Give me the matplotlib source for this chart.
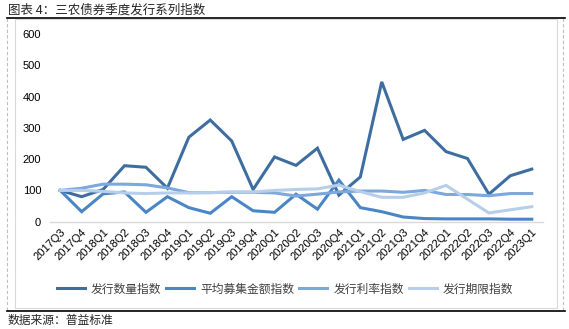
import numpy as np
import matplotlib.pyplot as plt
from matplotlib.lines import Line2D
from matplotlib.patches import Rectangle

plt.rcParams['font.family'] = ['Noto Sans CJK SC', 'DejaVu Sans']

# 季度
quarters = ['2017Q3', '2017Q4',
            '2018Q1', '2018Q2', '2018Q3', '2018Q4',
            '2019Q1', '2019Q2', '2019Q3', '2019Q4',
            '2020Q1', '2020Q2', '2020Q3', '2020Q4',
            '2021Q1', '2021Q2', '2021Q3', '2021Q4',
            '2022Q1', '2022Q2', '2022Q3', '2022Q4',
            '2023Q1']

# 各指数 (2017Q3 = 100)
issue_count = [100, 80, 103, 179, 174, 107, 270, 325, 258, 103, 207, 180,
               235, 85, 143, 447, 263, 292, 224, 202, 88, 147, 168]
avg_amount = [100, 32, 89, 95, 30, 80, 45, 27, 80, 35, 30, 88,
              40, 133, 45, 32, 15, 10, 9, 9, 9, 8, 8]
issue_rate = [100, 107, 120, 120, 118, 108, 93, 93, 94, 94, 92, 82,
              88, 95, 98, 98, 94, 100, 87, 87, 83, 90, 90]
issue_term = [100, 100, 97, 92, 90, 92, 92, 93, 95, 95, 100, 103,
              105, 117, 96, 78, 78, 92, 116, 72, 28, 38, 48]

names = ['发行数量指数', '平均募集金额指数', '发行利率指数', '发行期限指数']
colors = ['#3E6E9F', '#4A86C6', '#7DA8DB', '#B7CEEA']

fig = plt.figure(figsize=(5.69, 3.29), dpi=100)
W, H = 569.0, 329.0

# 外框
for x in (7, 563):
    fig.add_artist(Line2D([x / W, x / W], [1 - 18 / H, 1 - 311 / H], color='#BFBFBF',
                          lw=0.8, ls=(0, (3, 2))))
fig.add_artist(Rectangle((15 / W, 1 - 308 / H), (557 - 15) / W, (308 - 19) / H,
                         fill=False, edgecolor='#D9D9D9', lw=0.8))
fig.add_artist(Line2D([7 / W, 565 / W], [1 - 18 / H, 1 - 18 / H], color='black', lw=1.2))
fig.add_artist(Line2D([7 / W, 565 / W], [1 - 311 / H, 1 - 311 / H], color='black', lw=1.2))

fig.text(8 / W, 1 - 10 / H, '图表 4：三农债券季度发行系列指数', fontsize=9,
         ha='left', va='center', color='#262626', fontweight='medium')
fig.text(8 / W, 1 - 320 / H, '数据来源：普益标准', fontsize=8.5,
         ha='left', va='center', color='#262626')

ax = fig.add_axes([49.5 / W, 1 - 221.7 / H, (542.5 - 49.5) / W, (221.7 - 34) / H])
x = np.arange(len(quarters))
for ys, name, c in zip([issue_count, avg_amount, issue_rate, issue_term], names, colors):
    ax.plot(x, ys, color=c, lw=2.2, label=name, solid_joinstyle='miter')

ax.set_xlim(-0.5, len(quarters) - 0.5)
ax.set_ylim(0, 600)
ax.set_yticks(range(0, 601, 100))
ax.set_xticks(x)
ax.set_xticklabels(quarters, rotation=45, ha='right', rotation_mode='anchor',
                   family=['Liberation Sans', 'DejaVu Sans'], fontsize=8)
for lab in ax.get_yticklabels():
    lab.set_family(['Liberation Sans', 'DejaVu Sans'])
    lab.set_fontsize(8)
ax.tick_params(axis='both', length=0, colors='black')
ax.tick_params(axis='x', pad=4)
ax.tick_params(axis='y', pad=6)
for side in ('top', 'right', 'left'):
    ax.spines[side].set_visible(False)
ax.spines['bottom'].set_color('#D9D9D9')
ax.spines['bottom'].set_linewidth(1)

fig.legend(loc='center', bbox_to_anchor=(285 / W, 1 - 289 / H), ncol=4, frameon=False,
           fontsize=8.5, handlelength=2.4, handletextpad=0.5, columnspacing=0.4,
           labelcolor='#404040')

fig.savefig('out.png', dpi=100)
